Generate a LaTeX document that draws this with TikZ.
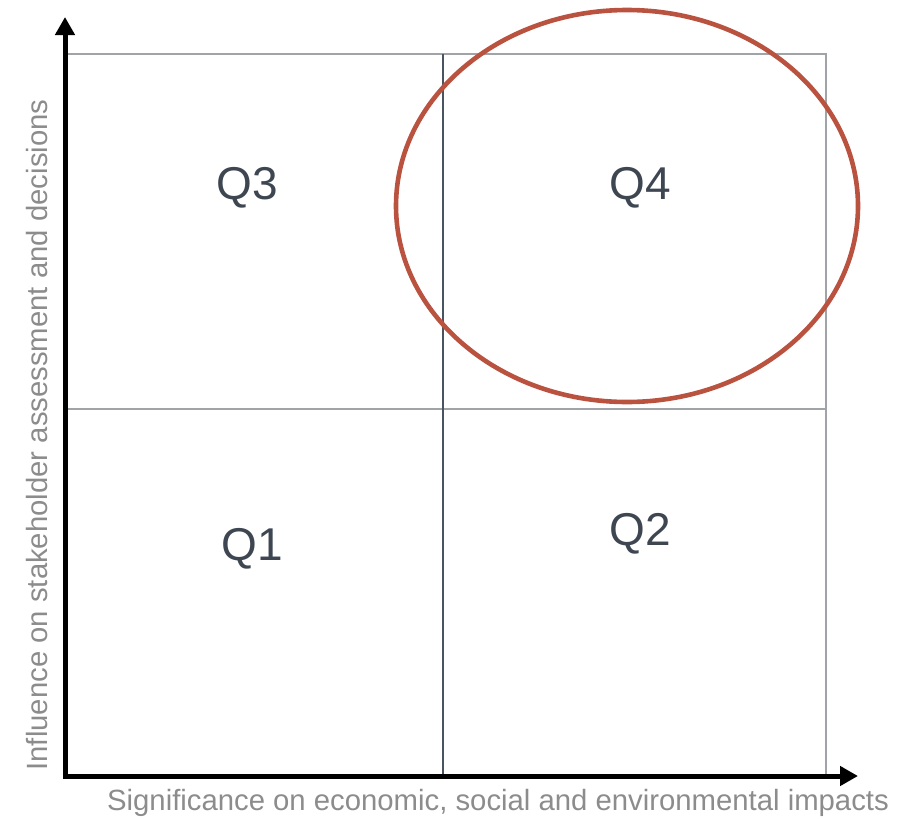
\documentclass[tikz,border=0pt]{standalone}
\usepackage{fontspec}
\setmainfont{Liberation Sans}
\usetikzlibrary{arrows.meta,shapes.geometric}
\definecolor{quadtext}{HTML}{3D4651}
\definecolor{axistext}{HTML}{8C8C8C}
\definecolor{gridgray}{HTML}{A0A4A8}
\definecolor{griddark}{HTML}{4A5360}
\definecolor{focusred}{HTML}{BA5240}
\tikzset{
  axis/.style={line width=5pt, -{Triangle[width=19pt,length=18pt]}},
  gridline/.style={line width=1.4pt, gridgray},
  quadlabel/.style={font=\fontsize{46}{50}\selectfont, text=quadtext},
  axislabel/.style={font=\fontsize{29.3}{32}\selectfont, text=axistext},
  focusring/.style={draw=focusred, line width=4.6pt, ellipse, inner sep=0pt,
    minimum width=462pt, minimum height=392pt},
}
\begin{document}
\begin{tikzpicture}[x=1pt,y=-1pt]
  \useasboundingbox (0,0) rectangle (902,819);
  % quadrant grid
  \coordinate (o) at (65,776);
  \coordinate (tl) at (65,54);
  \coordinate (tr) at (826,54);
  \coordinate (br) at (826,776);
  \coordinate (ml) at (65,409);
  \coordinate (mr) at (826,409);
  \coordinate (mt) at (443,54);
  \coordinate (mb) at (443,776);
  \draw[gridline] (tl) -- (tr) -- (br);
  \draw[gridline] (ml) -- (mr);
  \draw[line width=1.4pt, griddark] (mt) -- (mb);
  % axes
  \coordinate (ystart) at (65,778.5);
  \coordinate (ytip) at (65,17);
  \coordinate (xstart) at (62.5,776);
  \coordinate (xtip) at (858,776);
  \draw[axis] (ystart) -- (ytip);
  \draw[axis] (xstart) -- (xtip);
  % highlighted quadrant
  \node[focusring] (focus) at (627,206) {};
  % quadrant labels
  \node[quadlabel] (q3) at (247,188) {Q3};
  \node[quadlabel] (q4) at (640,188) {Q4};
  \node[quadlabel] (q1) at (252,549) {Q1};
  \node[quadlabel] (q2) at (640,534) {Q2};
  % axis titles
  \node[axislabel] (xlab) at (498,803) {Significance on economic, social and environmental impacts};
  \node[axislabel, rotate=90] (ylab) at (37,435) {Influence on stakeholder assessment and decisions};
\end{tikzpicture}
\end{document}
